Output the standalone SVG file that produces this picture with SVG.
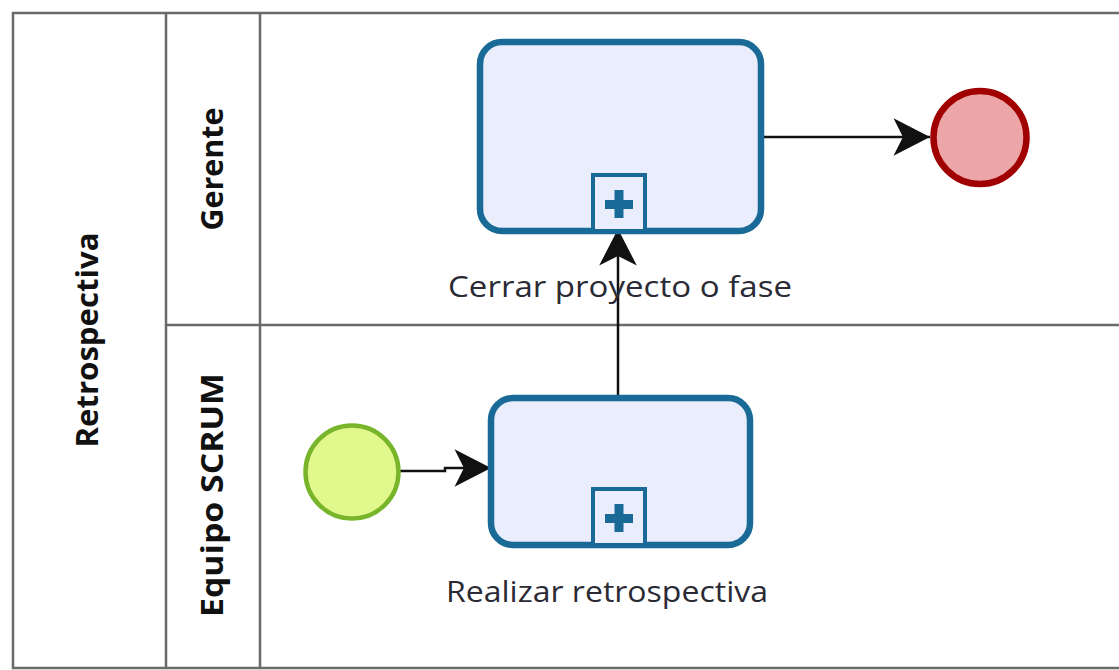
<svg xmlns="http://www.w3.org/2000/svg" width="1119" height="670" viewBox="0 0 1119 670">
  <style>
    .pool { fill: none; stroke: #6a6a6a; stroke-width: 2.5; }
    .lane-title { font-family: "Open Sans", "Liberation Sans", sans-serif; font-weight: bold; font-size: 30px; fill: #111; text-anchor: middle; }
    .task { fill: #e9edfc; stroke: #196a97; stroke-width: 6.5; }
    .marker-box { fill: #e9edfc; stroke: #196a97; stroke-width: 4; }
    .plus { fill: #196a97; }
    .label { font-family: "Open Sans", "Liberation Sans", sans-serif; font-size: 29px; fill: #2a2a35; }
    .flow { fill: none; stroke: #111; stroke-width: 2.5; }
    .start { fill: #e1f98c; stroke: #78b52a; stroke-width: 4.5; }
    .end { fill: #eca6a8; stroke: #a00000; stroke-width: 6.5; }
  </style>
  <defs>
    <marker id="arrow" markerUnits="userSpaceOnUse" markerWidth="40" markerHeight="40" viewBox="-32 -17 34 34" refX="0" refY="0" orient="auto">
      <path d="M -31,-16 L 0,0 L -31,16 L -23,0 Z" fill="#111"/>
    </marker>
    <g id="collapsed">
      <rect class="marker-box" x="-26" y="-56" width="52" height="56"/>
      <rect class="plus" x="-14" y="-31" width="28" height="9"/>
      <rect class="plus" x="-4.5" y="-41" width="9" height="28"/>
    </g>
  </defs>

  <!-- pool and lanes -->
  <g id="pool">
    <path class="pool" d="M 1119,13 L 13,13 L 13,668 L 1119,668" stroke-width="3"/>
    <line class="pool" x1="166" y1="13" x2="166" y2="668"/>
    <line class="pool" x1="260" y1="13" x2="260" y2="668"/>
    <line class="pool" x1="166" y1="325" x2="1119" y2="325"/>
    <text class="lane-title" transform="translate(98,340) rotate(-90)" textLength="215" lengthAdjust="spacingAndGlyphs">Retrospectiva</text>
  </g>
  <g id="lane-gerente">
    <text class="lane-title" transform="translate(223,169) rotate(-90)" textLength="123" lengthAdjust="spacingAndGlyphs">Gerente</text>
  </g>
  <g id="lane-equipo">
    <text class="lane-title" transform="translate(223,495) rotate(-90)" textLength="244" lengthAdjust="spacingAndGlyphs">Equipo SCRUM</text>
  </g>

  <!-- sequence flows -->
  <g id="connectors">
    <path class="flow" d="M 400,471 L 445,471 L 445,468 L 491,468" marker-end="url(#arrow)"/>
    <path class="flow" d="M 618,398 L 618,229" marker-end="url(#arrow)"/>
    <path class="flow" d="M 762,137 L 930,137" marker-end="url(#arrow)"/>
  </g>

  <g id="task-cerrar">
    <rect class="task" x="480" y="42" width="281" height="189" rx="22"/>
    <use href="#collapsed" x="619" y="231"/>
    <text class="label" x="448" y="297" textLength="344" lengthAdjust="spacingAndGlyphs">Cerrar proyecto o fase</text>
  </g>

  <g id="task-realizar">
    <rect class="task" x="491" y="398" width="259" height="147" rx="22"/>
    <use href="#collapsed" x="619" y="545"/>
    <text class="label" x="446" y="602" textLength="322" lengthAdjust="spacingAndGlyphs">Realizar retrospectiva</text>
  </g>

  <g id="start-event">
    <circle class="start" cx="352" cy="472" r="46.5"/>
  </g>

  <g id="end-event">
    <circle class="end" cx="980" cy="137.5" r="46.5"/>
  </g>
</svg>
